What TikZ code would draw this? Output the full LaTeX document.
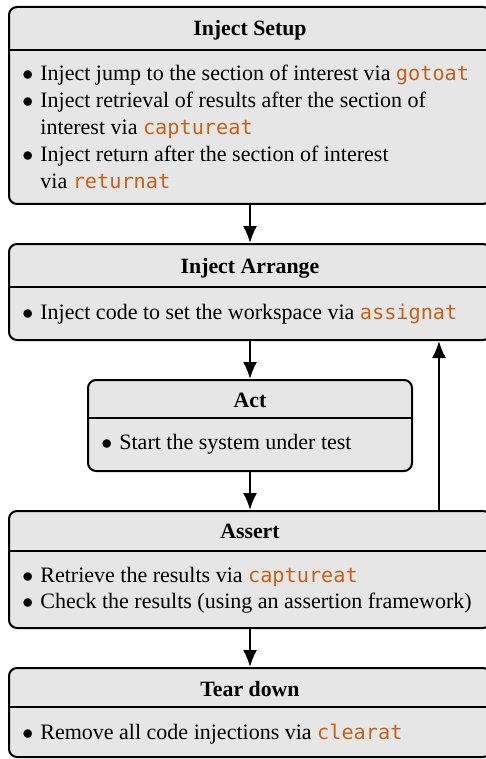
\documentclass[tikz,border=0pt]{standalone}
\usepackage{fontspec}
\setmainfont{Liberation Serif}
\setmonofont{DejaVu Sans Mono}[Scale=0.92]
\usetikzlibrary{arrows.meta}
\definecolor{boxfill}{RGB}{230,230,230}
\definecolor{codecol}{RGB}{196,98,28}
\newcommand{\code}[1]{{\ttfamily\color{codecol}#1}}
\newcommand{\bul}{\makebox[9pt][l]{$\bullet$}}
\tikzset{
  box/.style={draw=black, line width=1pt, fill=boxfill, rounded corners=4pt, inner sep=0pt},
  sep/.style={line width=1pt},
  title/.style={font=\fontsize{10.9}{13.5}\selectfont\bfseries, anchor=base, inner sep=0pt},
  body/.style={font=\fontsize{11}{13.5}\selectfont, anchor=base west, inner sep=0pt},
  arr/.style={line width=1pt, -{Latex[length=8.5pt,width=7pt]}}
}
\begin{document}
\begin{tikzpicture}[x=0.5pt,y=-0.5pt]
\useasboundingbox (0,0) rectangle (486,759);
% boxes
\node[box, minimum width=241pt, minimum height=98.5pt] (setup) at (250,105.5) {};
\node[box, minimum width=241pt, minimum height=48pt] (arrange) at (250,292) {};
\node[box, minimum width=162pt, minimum height=45.5pt] (act) at (250,425.5) {};
\node[box, minimum width=241pt, minimum height=58.5pt] (assert) at (250,569.5) {};
\node[box, minimum width=241pt, minimum height=44.5pt] (tear) at (250,712.5) {};
% separators
\coordinate (s1) at (0,50);
\coordinate (s2) at (0,287);
\coordinate (s3) at (0,418);
\coordinate (s4) at (0,551);
\coordinate (s5) at (0,707);
\draw[sep] (setup.west |- s1) -- (setup.east |- s1);
\draw[sep] (arrange.west |- s2) -- (arrange.east |- s2);
\draw[sep] (act.west |- s3) -- (act.east |- s3);
\draw[sep] (assert.west |- s4) -- (assert.east |- s4);
\draw[sep] (tear.west |- s5) -- (tear.east |- s5);
% titles
\node[title] (t1) at (250,36) {Inject Setup};
\node[title] (t2) at (250,273) {Inject Arrange};
\node[title] (t3) at (250,407) {Act};
\node[title] (t4) at (250,538) {Assert};
\node[title] (t5) at (250,696) {Tear down};
% bodies
\node[body] (b1a) at (22,81) {\bul Inject jump to the section of interest via \code{gotoat}};
\node[body] (b1b) at (22,108) {\bul Inject retrieval of results after the section of};
\node[body] (b1c) at (40,135) {interest via \code{captureat}};
\node[body] (b1d) at (22,162) {\bul Inject return after the section of interest};
\node[body] (b1e) at (40,189) {via \code{returnat}};
\node[body] (b2) at (22,319) {\bul Inject code to set the workspace via \code{assignat}};
\node[body] (b3) at (101,449) {\bul Start the system under test};
\node[body] (b4a) at (22,582) {\bul Retrieve the results via \code{captureat}};
\node[body] (b4b) at (22,608) {\bul Check the results (using an assertion framework)};
\node[body] (b5) at (22,739) {\bul Remove all code injections via \code{clearat}};
% arrows
\draw[arr] (setup) -- (arrange);
\draw[arr] (arrange) -- (act);
\draw[arr] (act) -- (assert);
\draw[arr] (assert) -- (tear);
\coordinate (up) at (439,0);
\draw[arr] (assert.north -| up) -- (arrange.south -| up);
\end{tikzpicture}
\end{document}
